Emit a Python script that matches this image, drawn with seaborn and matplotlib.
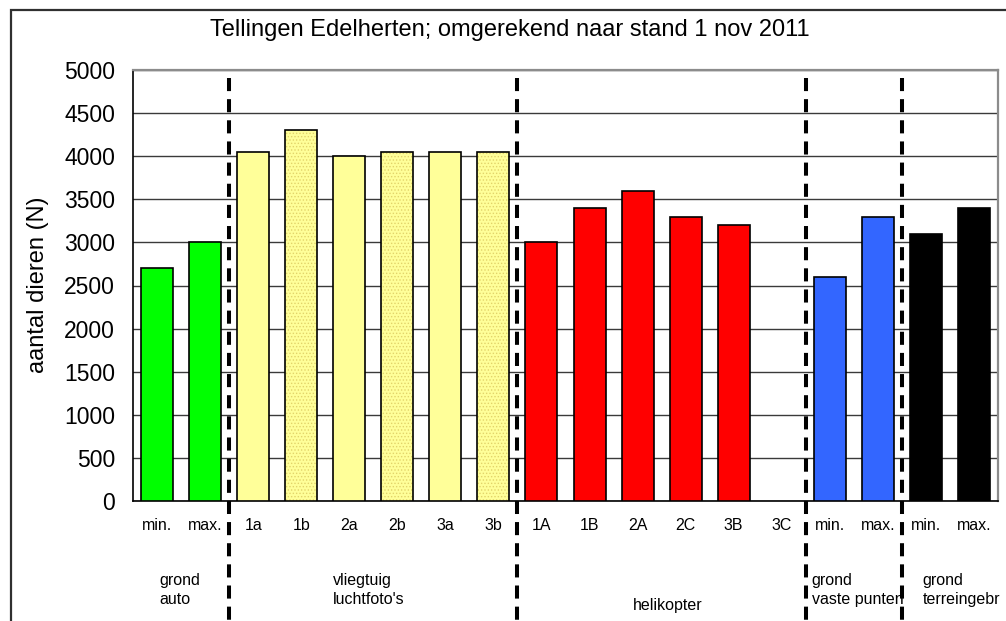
import numpy as np
import pandas as pd
import matplotlib
matplotlib.use("Agg")
import matplotlib.pyplot as plt
import matplotlib.colors as mcolors
from matplotlib.patches import Rectangle
import seaborn as sns

# Counts of red deer, converted to the 1 Nov 2011 reference date
keys = ["auto_min", "auto_max", "1a", "1b", "2a", "2b", "3a", "3b",
        "1A", "1B", "2A", "2C", "3B", "3C", "vp_min", "vp_max", "tg_min", "tg_max"]
tick_labels = ["min.", "max.", "1a", "1b", "2a", "2b", "3a", "3b",
               "1A", "1B", "2A", "2C", "3B", "3C", "min.", "max.", "min.", "max."]
counts = [2700, 3000, 4050, 4300, 4000, 4050, 4050, 4050,
          3000, 3400, 3600, 3300, 3200, np.nan, 2600, 3300, 3100, 3400]
bar_colors = ["#00FF00", "#00FF00",
              "#FFFF99", "#FFFF99", "#FFFF99", "#FFFF99", "#FFFF99", "#FFFF99",
              "#FF0000", "#FF0000", "#FF0000", "#FF0000", "#FF0000", "#FF0000",
              "#3366FF", "#3366FF", "#000000", "#000000"]
stippled = ["1b", "2b", "3b"]

group_texts = ["grond\nauto", "vliegtuig\nluchtfoto's", "helikopter",
               "grond\nvaste punten", "grond\nterreingebr"]
group_x = [0.04, 3.66, 10.63, 13.62, 15.93]
group_y = [-0.2065, -0.2065, -0.2436, -0.2065, -0.2065]
group_ha = ["left", "left", "center", "left", "left"]
separators = [1.5, 7.5, 13.5, 15.5]

title = "Tellingen Edelherten; omgerekend naar stand 1 nov 2011"
ylabel = "aantal dieren (N)"

sns.set_style("white")
plt.rcParams["font.family"] = ["Liberation Sans", "DejaVu Sans"]
plt.rcParams["hatch.linewidth"] = 0.6
for key in ["text.color", "axes.labelcolor", "xtick.labelcolor", "ytick.labelcolor"]:
    plt.rcParams[key] = "black"

df = pd.DataFrame({"key": keys, "count": counts})

fig = plt.figure(figsize=(10.06, 6.21), dpi=100)
ax = fig.add_axes([133 / 1006, 1 - 501 / 621, (998 - 133) / 1006, (501 - 70) / 621])

sns.barplot(data=df, x="key", y="count", hue="key", order=keys, hue_order=keys,
            palette=bar_colors, legend=False, width=0.667,
            edgecolor="black", linewidth=1.2, saturation=1, ax=ax, zorder=3)

# fine stipple on the alternating aerial-photo bars
for patch, k in zip(ax.patches, keys):
    if k in stippled:
        patch.set_hatch(".....")
        patch._hatch_color = mcolors.to_rgba("#E2D36A")
        patch.stale = True

ax.set_xlim(-0.5, len(keys) - 0.5)
ax.set_ylim(0, 5000)
ax.set_yticks(np.arange(0, 5001, 500))
ax.yaxis.grid(True, color="#3a3a3a", linewidth=1, zorder=0)
ax.set_axisbelow(True)

ax.set_xticks(range(len(keys)))
ax.set_xticklabels(tick_labels, fontsize=11.5, color="black")
ax.set_xticks(np.arange(-0.5, len(keys), 1), minor=True)
ax.tick_params(axis="x", which="major", length=0, pad=12, labelcolor="black")
ax.tick_params(axis="x", which="minor", length=5, width=1, color="#333333", direction="out")
ax.tick_params(axis="y", length=5, width=1, color="#333333", direction="out",
               pad=8, labelsize=16.5, labelcolor="black")
ax.set_xlabel("")
ax.set_ylabel("")

for side in ["left", "bottom"]:
    ax.spines[side].set_color("black")
    ax.spines[side].set_linewidth(1.2)
for side in ["top", "right"]:
    ax.spines[side].set_color("#8c8c8c")
    ax.spines[side].set_linewidth(1.6)

# group names under the tick labels
xt = ax.get_xaxis_transform()
for txt, gx, gy, ha in zip(group_texts, group_x, group_y, group_ha):
    ax.text(gx, gy, txt, transform=xt, ha=ha, va="center", fontsize=11.5,
            color="black", linespacing=1.3, zorder=2, clip_on=False)

# dashed separators between counting methods
for sx in separators:
    ln, = ax.plot([sx, sx], [0.981, -0.35], transform=xt, color="black",
                  linewidth=2.9, clip_on=False, zorder=6, solid_capstyle="butt")
    ln.set_dashes((3.25, 2.0))
    ln.set_dash_capstyle("butt")

fig.text(510 / 1006, 1 - 30 / 621, title, ha="center", va="center",
         fontsize=17, color="black")
fig.text(38 / 1006, 1 - 284.5 / 621, ylabel, ha="center", va="center",
         rotation=90, fontsize=17, color="black")

# outer chart frame
fig.patches.append(Rectangle((11 / 1006, -0.2), 1.2, 1.2 - 10 / 621,
                             transform=fig.transFigure, fill=False,
                             edgecolor="#303030", linewidth=1.6))

fig.savefig("out.png", dpi=100)
